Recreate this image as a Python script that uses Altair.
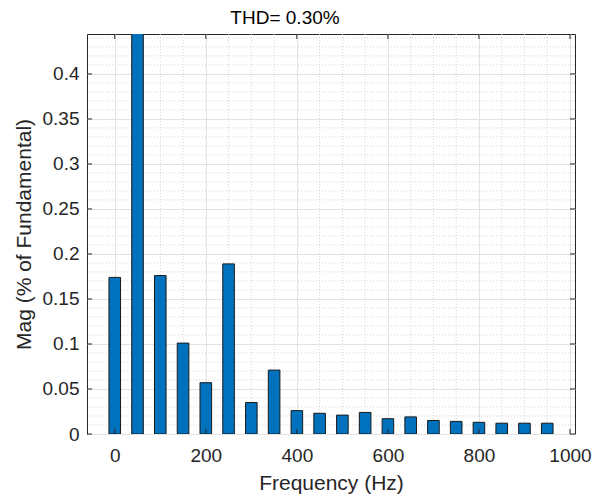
import altair as alt
import pandas as pd

# Harmonic frequencies (Hz) and magnitudes (% of fundamental)
freq = [0, 50, 100, 150, 200, 250, 300, 350, 400, 450,
        500, 550, 600, 650, 700, 750, 800, 850, 900, 950]
mag = [0.174, 100.0, 0.176, 0.101, 0.057, 0.189, 0.035, 0.071, 0.026, 0.023,
       0.021, 0.024, 0.017, 0.019, 0.015, 0.014, 0.013, 0.012, 0.012, 0.012]

x_major = [0, 200, 400, 600, 800, 1000]
x_minor = [50, 100, 150, 250, 300, 350, 450, 500, 550,
           650, 700, 750, 850, 900, 950]
y_major = [0, 0.05, 0.1, 0.15, 0.2, 0.25, 0.3, 0.35, 0.4]
y_minor = [round(i * 0.01, 2) for i in range(1, 45) if i % 5 != 0]

x_domain = [-50, 1000]
y_domain = [0, 0.4444]

FONT = "Liberation Sans"
TXT = "#262626"
W, H = 488, 400

bars_df = pd.DataFrame({"freq": freq, "mag": mag})
xt_df = pd.DataFrame({"freq": x_major})
yt_df = pd.DataFrame({"mag": y_major})
xg_df = pd.DataFrame({"freq": x_minor})
yg_df = pd.DataFrame({"mag": y_minor})

x_axis = alt.Axis(
    values=x_major, format="d",
    grid=True, gridColor="#e2e2e2", gridWidth=1,
    ticks=False, tickSize=0, domain=False,
    labelFont=FONT, labelFontSize=19, labelColor=TXT,
    labelPadding=12, labelFlush=False, labelOverlap=False, labelBound=False,
    title="Frequency (Hz)", titleFont=FONT, titleFontSize=21,
    titleFontWeight="normal", titleColor=TXT, titlePadding=7,
)
y_axis = alt.Axis(
    values=y_major, format="~g",
    grid=True, gridColor="#e2e2e2", gridWidth=1,
    ticks=False, tickSize=0, domain=False,
    labelFont=FONT, labelFontSize=19, labelColor=TXT,
    labelPadding=8, labelFlush=False, labelOverlap=False, labelBound=False,
    title="Mag (% of Fundamental)", titleFont=FONT, titleFontSize=21,
    titleFontWeight="normal", titleColor=TXT, titlePadding=8,
)

xs = alt.Scale(domain=x_domain, nice=False, zero=False)
ys = alt.Scale(domain=y_domain, nice=False, zero=False)

grid_style = dict(color="#d4d4d4", strokeWidth=1, strokeDash=[1, 2])
xg = alt.Chart(xg_df).mark_rule(**grid_style).encode(x=alt.X("freq:Q", scale=xs))
yg = alt.Chart(yg_df).mark_rule(**grid_style).encode(y=alt.Y("mag:Q", scale=ys))

bars = alt.Chart(bars_df).mark_bar(
    size=11.6, color="#0072BD", stroke="#1a1a1a", strokeWidth=1, clip=True
).encode(
    x=alt.X("freq:Q", scale=xs, axis=x_axis),
    y=alt.Y("mag:Q", scale=ys, axis=y_axis),
)

tick_style = dict(color=TXT, strokeWidth=1)
xt_top = alt.Chart(xt_df).mark_rule(**tick_style).encode(
    x=alt.X("freq:Q", scale=xs), y=alt.value(0), y2=alt.value(5))
xt_bot = alt.Chart(xt_df).mark_rule(**tick_style).encode(
    x=alt.X("freq:Q", scale=xs), y=alt.value(H - 5), y2=alt.value(H))
yt_left = alt.Chart(yt_df).mark_rule(**tick_style).encode(
    y=alt.Y("mag:Q", scale=ys), x=alt.value(0), x2=alt.value(5))
yt_right = alt.Chart(yt_df).mark_rule(**tick_style).encode(
    y=alt.Y("mag:Q", scale=ys), x=alt.value(W - 5), x2=alt.value(W))

chart = alt.layer(xg, yg, bars, xt_top, xt_bot, yt_left, yt_right).properties(
    width=W, height=H,
    title=alt.TitleParams(
        "THD= 0.30%", font=FONT, fontSize=19, fontWeight="normal",
        color="black", dx=-46, offset=6,
    ),
    padding={"left": 87, "top": 34, "right": 30, "bottom": 65},
    autosize=alt.AutoSizeParams(type="none"),
    background="white",
).configure_view(stroke=TXT, strokeWidth=1)

chart.save("out.html", embed_options={"renderer": "svg", "actions": False})
